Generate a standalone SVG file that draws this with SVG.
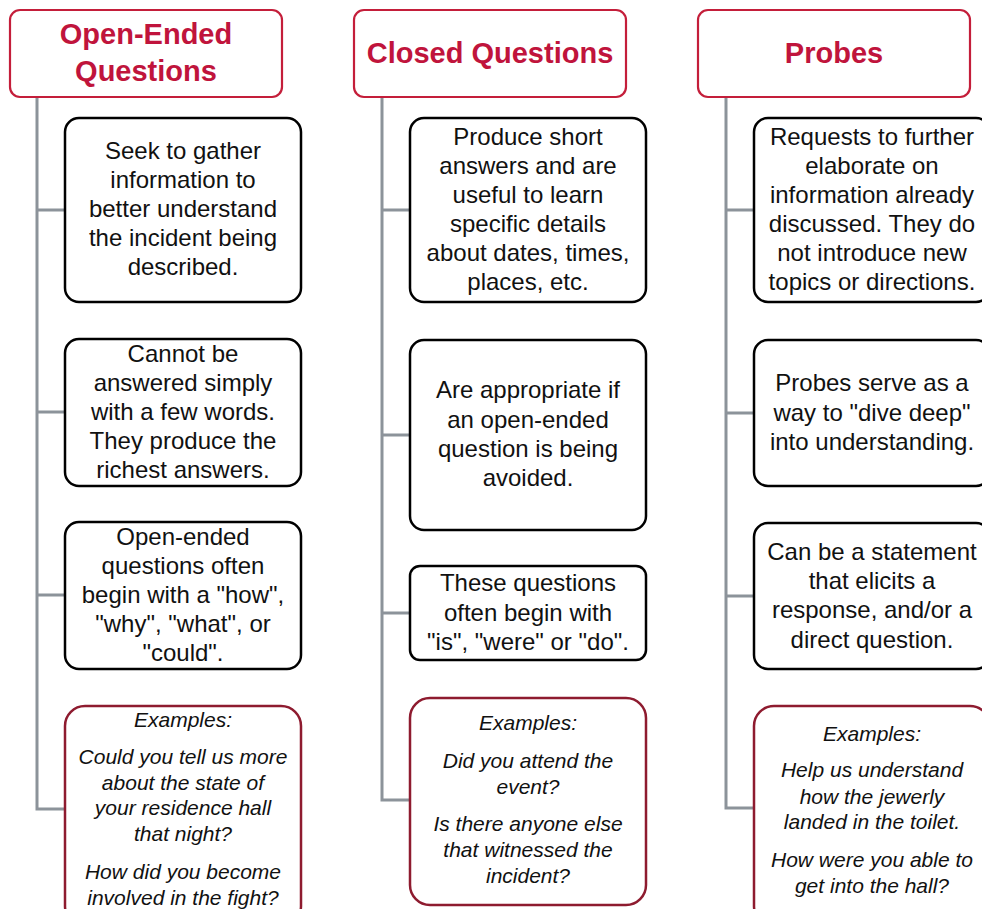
<svg xmlns="http://www.w3.org/2000/svg" width="982" height="909" viewBox="0 0 982 909">
<style>
.hdr{fill:#fff;stroke:#c41e3a;stroke-width:2.2}
.box{fill:#fff;stroke:#000;stroke-width:2.5}
.ex{fill:#fff;stroke:#8e1b2f;stroke-width:2.5}
.ht{font-family:"Liberation Sans",Arial,sans-serif;font-weight:bold;font-size:29px;fill:#c0143c;text-anchor:middle}
.t{font-family:"Liberation Sans",Arial,sans-serif;font-size:24px;fill:#111;text-anchor:middle}
.i{font-family:"Liberation Sans",Arial,sans-serif;font-style:italic;font-size:21px;fill:#111;text-anchor:middle}
.c{fill:none;stroke:#8c939a;stroke-width:3}
</style>
<rect width="982" height="909" fill="#fff"/>
<g id="connectors">
<path class="c" d="M37,97 V809 H65 M37,210 H65 M37,412 H65 M37,595 H65"/>
<path class="c" d="M382,97 V800 H410 M382,210 H410 M382,435 H410 M382,613 H410"/>
<path class="c" d="M726,97 V808 H754 M726,210 H754 M726,413 H754 M726,596 H754"/>
</g>
<g id="h1"><rect class="hdr" x="10" y="10" width="272" height="87" rx="10"/>
<text class="ht" x="146" y="44">Open-Ended</text><text class="ht" x="146" y="81">Questions</text></g>
<g id="h2"><rect class="hdr" x="354" y="10" width="272" height="87" rx="10"/>
<text class="ht" x="490" y="63">Closed Questions</text></g>
<g id="h3"><rect class="hdr" x="698" y="10" width="272" height="87" rx="10"/>
<text class="ht" x="834" y="63">Probes</text></g>

<g id="o1"><rect class="box" x="65" y="118" width="236" height="184" rx="14"/>
<text class="t" x="183" y="159">Seek to gather</text><text class="t" x="183" y="188">information to</text><text class="t" x="183" y="217">better understand</text><text class="t" x="183" y="246">the incident being</text><text class="t" x="183" y="275">described.</text></g>
<g id="o2"><rect class="box" x="65" y="339" width="236" height="147" rx="14"/>
<text class="t" x="183" y="362">Cannot be</text><text class="t" x="183" y="391">answered simply</text><text class="t" x="183" y="420">with a few words.</text><text class="t" x="183" y="449">They produce the</text><text class="t" x="183" y="478">richest answers.</text></g>
<g id="o3"><rect class="box" x="65" y="522" width="236" height="147" rx="14"/>
<text class="t" x="183" y="545">Open-ended</text><text class="t" x="183" y="574">questions often</text><text class="t" x="183" y="603">begin with a "how",</text><text class="t" x="183" y="632">"why", "what", or</text><text class="t" x="183" y="661">"could".</text></g>
<g id="o4"><rect class="ex" x="65" y="706" width="236" height="220" rx="20"/>
<text class="i" x="183" y="727">Examples:</text><text class="i" x="183" y="764">Could you tell us more</text><text class="i" x="183" y="790">about the state of</text><text class="i" x="183" y="815">your residence hall</text><text class="i" x="183" y="841">that night?</text><text class="i" x="183" y="879">How did you become</text><text class="i" x="183" y="905">involved in the fight?</text></g>

<g id="c1"><rect class="box" x="410" y="118" width="236" height="184" rx="14"/>
<text class="t" x="528" y="145">Produce short</text><text class="t" x="528" y="174">answers and are</text><text class="t" x="528" y="203">useful to learn</text><text class="t" x="528" y="232">specific details</text><text class="t" x="528" y="261">about dates, times,</text><text class="t" x="528" y="290">places, etc.</text></g>
<g id="c2"><rect class="box" x="410" y="340" width="236" height="190" rx="14"/>
<text class="t" x="528" y="398">Are appropriate if</text><text class="t" x="528" y="428">an open-ended</text><text class="t" x="528" y="457">question is being</text><text class="t" x="528" y="486">avoided.</text></g>
<g id="c3"><rect class="box" x="410" y="566" width="236" height="94" rx="10"/>
<text class="t" x="528" y="591">These questions</text><text class="t" x="528" y="621">often begin with</text><text class="t" x="528" y="650">"is", "were" or "do".</text></g>
<g id="c4"><rect class="ex" x="410" y="698" width="236" height="207" rx="20"/>
<text class="i" x="528" y="730">Examples:</text><text class="i" x="528" y="768">Did you attend the</text><text class="i" x="528" y="794">event?</text><text class="i" x="528" y="831">Is there anyone else</text><text class="i" x="528" y="857">that witnessed the</text><text class="i" x="528" y="883">incident?</text></g>

<g id="p1"><rect class="box" x="754" y="118" width="236" height="184" rx="14"/>
<text class="t" x="872" y="145">Requests to further</text><text class="t" x="872" y="174">elaborate on</text><text class="t" x="872" y="203">information already</text><text class="t" x="872" y="232">discussed. They do</text><text class="t" x="872" y="261">not introduce new</text><text class="t" x="872" y="290">topics or directions.</text></g>
<g id="p2"><rect class="box" x="754" y="340" width="236" height="146" rx="14"/>
<text class="t" x="872" y="391">Probes serve as a</text><text class="t" x="872" y="421">way to "dive deep"</text><text class="t" x="872" y="450">into understanding.</text></g>
<g id="p3"><rect class="box" x="754" y="523" width="236" height="146" rx="14"/>
<text class="t" x="872" y="560">Can be a statement</text><text class="t" x="872" y="589">that elicits a</text><text class="t" x="872" y="618">response, and/or a</text><text class="t" x="872" y="648">direct question.</text></g>
<g id="p4"><rect class="ex" x="754" y="706" width="236" height="220" rx="20"/>
<text class="i" x="872" y="741">Examples:</text><text class="i" x="872" y="777">Help us understand</text><text class="i" x="872" y="804">how the jewerly</text><text class="i" x="872" y="829">landed in the toilet.</text><text class="i" x="872" y="867">How were you able to</text><text class="i" x="872" y="893">get into the hall?</text></g>
</svg>
